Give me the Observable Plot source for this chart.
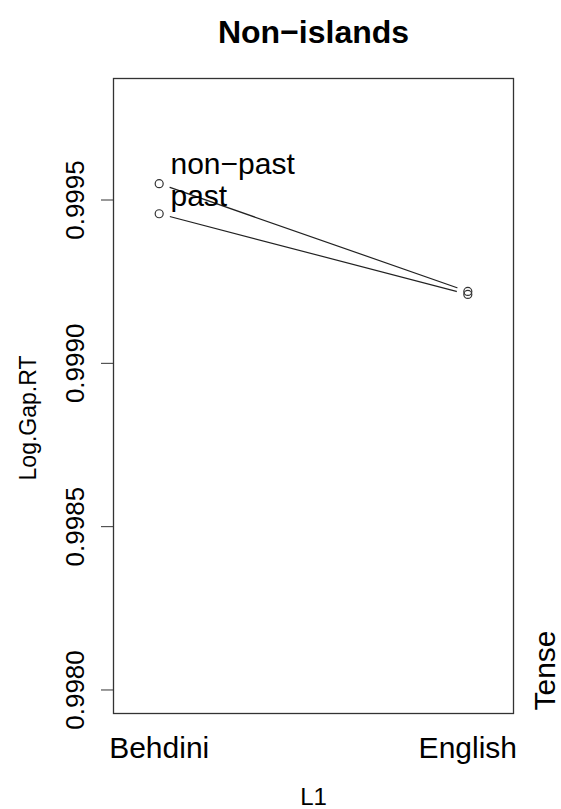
<!DOCTYPE html>
<html>
<head>
<meta charset="utf-8">
<script src="https://cdn.jsdelivr.net/npm/d3@7"></script>
<script src="https://cdn.jsdelivr.net/npm/@observablehq/plot@0.6"></script>
<style>
  html, body { margin: 0; padding: 0; background: #fff; }
  svg { display: block; }
</style>
</head>
<body>
<div id="chart"></div>
<script>
const title = "Non\u2212islands";
const L1 = ["Behdini", "English"];
const tenses = ["non\u2212past", "past"];
const nonPast = [0.99955, 0.99922];
const past = [0.999458, 0.999211];
const yTicks = [0.998, 0.9985, 0.999, 0.9995];
const xLabel = "L1";
const yLabel = "Log.Gap.RT";
const legendTitle = "Tense";

const rows = [];
[nonPast, past].forEach((vals, k) => {
  vals.forEach((v, i) => rows.push({tense: tenses[k], x: i + 1, y: v}));
});

const font = "Liberation Sans, Arial, Helvetica, sans-serif";
const T = {textAnchor: "middle", lineAnchor: "middle", fill: "#000"};

const chart = Plot.plot({
  width: 561,
  height: 809,
  marginTop: 78,
  marginBottom: 96,
  marginLeft: 113,
  marginRight: 48,
  style: {fontFamily: font, color: "#000", background: "#fff"},
  x: {type: "linear", domain: [0.852, 2.148], axis: null},
  y: {type: "linear", domain: [0.997928, 0.999872], axis: null},
  marks: [
    Plot.frame({stroke: "#333", strokeWidth: 1.3}),
    Plot.axisY({ticks: yTicks, tickSize: 12, tickFormat: () => "", label: null, stroke: "#333"}),
    Plot.text(yTicks, {...T, y: d => d, text: d => d.toFixed(4), frameAnchor: "left", dx: -38, rotate: -90, fontSize: 26}),
    Plot.line(rows, {x: "x", y: "y", z: "tense", stroke: "#222", strokeWidth: 1.2}),
    Plot.dot(rows, {x: "x", y: "y", r: 11, fill: "white", stroke: "none"}),
    Plot.dot(rows, {x: "x", y: "y", r: 4, fill: "none", stroke: "#333", strokeWidth: 1.2}),
    Plot.text(L1, {...T, x: (d, i) => i + 1, text: d => d, frameAnchor: "bottom", dy: 35, fontSize: 30}),
    Plot.text([tenses[0]], {...T, textAnchor: "start", text: d => d, frameAnchor: "top-left", dx: 57, dy: 86, fontSize: 30}),
    Plot.text([tenses[1]], {...T, textAnchor: "start", text: d => d, frameAnchor: "top-left", dx: 57, dy: 118, fontSize: 30}),
    Plot.text([title], {...T, text: d => d, frameAnchor: "top", dy: -46, fontSize: 32, fontWeight: "bold"}),
    Plot.text([yLabel], {...T, text: d => d, frameAnchor: "left", dx: -85, dy: 22, rotate: -90, fontSize: 23}),
    Plot.text([xLabel], {...T, text: d => d, frameAnchor: "bottom", dy: 84, fontSize: 24}),
    Plot.text([legendTitle], {...T, text: d => d, frameAnchor: "bottom-right", dx: 32, dy: -43, rotate: -90, fontSize: 30})
  ]
});
document.getElementById("chart").appendChild(chart);
</script>
</body>
</html>
